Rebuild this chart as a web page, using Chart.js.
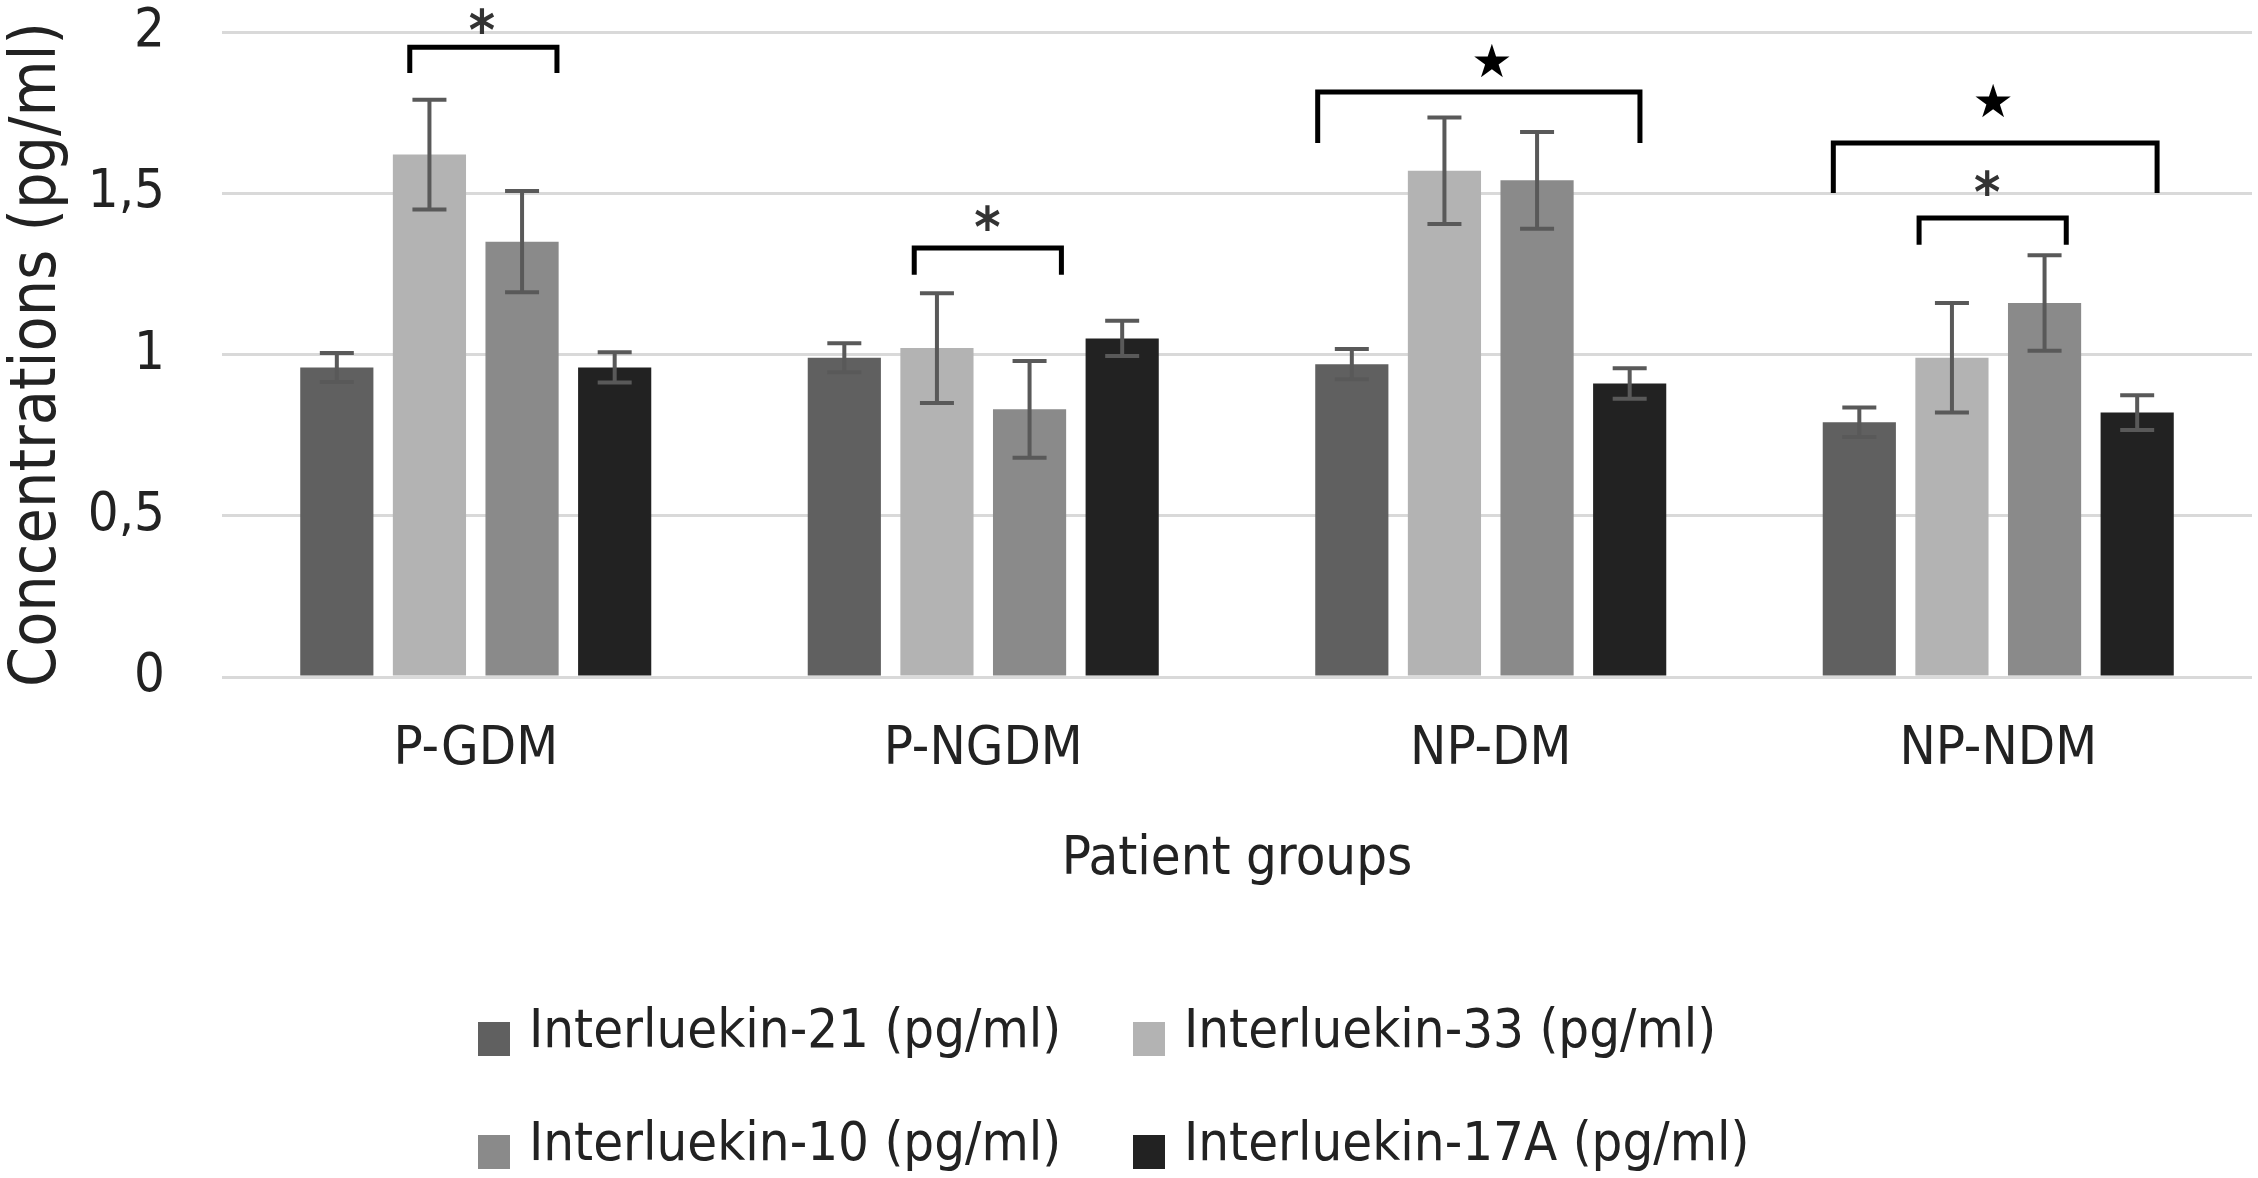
<!DOCTYPE html>
<html lang="en">
<head>
    <meta charset="UTF-8">
    <title>Interleukin concentrations by patient group</title>
    <script src="https://cdn.jsdelivr.net/npm/chart.js"></script>
    <style>
        body {
            margin: 0;
            background-color: #ffffff;
        }
        #wrap {
            width: 2258px;
            height: 1178px;
            position: relative;
        }
    </style>
</head>
<body>
    <div id="wrap">
        <canvas id="ilChart"></canvas>
    </div>

    <script>
        // values
        const groups = ['P-GDM', 'P-NGDM', 'NP-DM', 'NP-NDM'];
        const seriesNames = ['Interluekin-21 (pg/ml)', 'Interluekin-33 (pg/ml)', 'Interluekin-10 (pg/ml)', 'Interluekin-17A (pg/ml)'];
        const il21 = [0.96, 0.99, 0.97, 0.79];
        const il33 = [1.62, 1.02, 1.57, 0.99];
        const il10 = [1.35, 0.83, 1.54, 1.16];
        const il17a = [0.96, 1.05, 0.91, 0.82];
        const il21Err = [0.045, 0.045, 0.047, 0.046];
        const il33Err = [0.17, 0.17, 0.165, 0.17];
        const il10Err = [0.157, 0.15, 0.15, 0.148];
        const il17aErr = [0.047, 0.055, 0.047, 0.054];
        const yTicks = [0, 0.5, 1, 1.5, 2];

        // significance brackets (group index, ends as fraction of category width, heights in pg/ml)
        const brackets = [
            { group: 0, from: -0.130, to: 0.160, top: 1.953, foot: 1.873, sign: '*', signX: 0.012, signY: 2.050 },
            { group: 1, from: -0.136, to: 0.154, top: 1.330, foot: 1.247, sign: '*', signX: 0.008, signY: 1.439 },
            { group: 2, from: -0.341, to: 0.294, top: 1.814, foot: 1.656, sign: '\u2605', signX: 0.002, signY: 1.913 },
            { group: 3, from: -0.325, to: 0.313, top: 1.656, foot: 1.501, sign: '\u2605', signX: -0.010, signY: 1.789 },
            { group: 3, from: -0.156, to: 0.134, top: 1.423, foot: 1.340, sign: '*', signX: -0.022, signY: 1.547 }
        ];

        const FONT = '"DejaVu Sans Condensed", "Roboto", sans-serif';
        const TEXT = '#222222';

        const errorBars = {
            id: 'errorBars',
            afterDatasetsDraw(chart) {
                const c = chart.ctx;
                const y = chart.scales.y;
                c.save();
                c.strokeStyle = '#595959';
                c.lineWidth = 4;
                chart.data.datasets.forEach((ds, i) => {
                    const meta = chart.getDatasetMeta(i);
                    meta.data.forEach((bar, j) => {
                        const v = ds.data[j], e = ds.errors[j];
                        const yHi = y.getPixelForValue(v + e);
                        const yLo = y.getPixelForValue(v - e);
                        c.beginPath();
                        c.moveTo(bar.x, yHi); c.lineTo(bar.x, yLo);
                        c.moveTo(bar.x - 17, yHi); c.lineTo(bar.x + 17, yHi);
                        c.moveTo(bar.x - 17, yLo); c.lineTo(bar.x + 17, yLo);
                        c.stroke();
                    });
                });
                c.restore();
            }
        };

        const sigMarks = {
            id: 'sigMarks',
            afterDraw(chart) {
                const c = chart.ctx;
                const x = chart.scales.x, y = chart.scales.y;
                const cw = (chart.chartArea.right - chart.chartArea.left) / groups.length;
                c.save();
                c.strokeStyle = '#000000';
                c.lineWidth = 5;
                brackets.forEach(b => {
                    const cx = x.getPixelForValue(b.group);
                    const x1 = cx + b.from * cw, x2 = cx + b.to * cw;
                    const yt = y.getPixelForValue(b.top), yf = y.getPixelForValue(b.foot);
                    c.beginPath();
                    c.moveTo(x1, yf); c.lineTo(x1, yt); c.lineTo(x2, yt); c.lineTo(x2, yf);
                    c.stroke();
                    c.fillStyle = b.sign === '*' ? '#333333' : '#000000';
                    c.textAlign = 'center';
                    c.textBaseline = 'alphabetic';
                    const sx = cx + b.signX * cw, sy = y.getPixelForValue(b.signY);
                    if (b.sign === '*') {
                        c.font = 'bold 56px ' + FONT;
                        c.fillText(b.sign, sx, sy + 33);
                    } else {
                        c.font = '46px "DejaVu Sans", sans-serif';
                        c.fillText(b.sign, sx, sy + 17);
                    }
                });
                c.restore();
            }
        };

        // two-column legend under the axis title
        const gridLegend = {
            id: 'gridLegend',
            afterDraw(chart) {
                const c = chart.ctx;
                const cols = [478, 1133], rows = [1033, 1146];
                c.save();
                c.font = '54px ' + FONT;
                c.textBaseline = 'middle';
                c.textAlign = 'left';
                chart.data.datasets.forEach((ds, i) => {
                    const bx = cols[i % 2], ty = rows[Math.floor(i / 2)];
                    c.fillStyle = ds.backgroundColor;
                    c.fillRect(bx, ty - 11, 32, 34);
                    c.fillStyle = TEXT;
                    c.fillText(ds.label, bx + 51, ty);
                });
                c.restore();
            }
        };

        const values = [il21, il33, il10, il17a];
        const errs = [il21Err, il33Err, il10Err, il17aErr];
        const colors = ['#606060', '#b3b3b3', '#8a8a8a', '#222222'];

        const ctx = document.getElementById('ilChart').getContext('2d');
        const ilChart = new Chart(ctx, {
            type: 'bar',
            data: {
                labels: groups,
                datasets: seriesNames.map((name, i) => ({
                    label: name,
                    data: values[i],
                    errors: errs[i],
                    backgroundColor: colors[i],
                    borderWidth: 0,
                    categoryPercentage: 0.73,
                    barPercentage: 0.79
                }))
            },
            options: {
                responsive: true,
                maintainAspectRatio: false,
                animation: false,
                layout: { padding: { top: 32, right: 6, left: 0, bottom: 286 } },
                plugins: {
                    legend: { display: false },
                    tooltip: { enabled: false }
                },
                scales: {
                    x: {
                        grid: { display: false, drawTicks: false },
                        border: { display: false },
                        ticks: { color: TEXT, padding: 41, font: { family: FONT, size: 54 } },
                        title: {
                            display: true,
                            text: 'Patient groups',
                            color: TEXT,
                            padding: { top: 0, bottom: 0 },
                            font: { family: FONT, size: 54 }
                        },
                        afterFit: s => { s.height = 215; }
                    },
                    y: {
                        min: 0,
                        max: 2,
                        afterBuildTicks: s => { s.ticks = yTicks.map(v => ({ value: v })); },
                        grid: { color: '#d9d9d9', lineWidth: 3, drawTicks: false },
                        border: { display: false },
                        ticks: {
                            color: TEXT,
                            padding: 57,
                            font: { family: FONT, size: 54 },
                            callback: v => String(v).replace('.', ',')
                        },
                        title: {
                            display: true,
                            text: 'Concentrations (pg/ml)',
                            color: TEXT,
                            padding: { top: 0, bottom: 0 },
                            font: { family: FONT, size: 64 }
                        },
                        afterFit: s => {
                            s.width = 222;
                            // the top tick label may sit in the layout padding
                            s.paddingTop = 0;
                            s.paddingBottom = 0;
                        }
                    }
                }
            },
            plugins: [errorBars, sigMarks, gridLegend]
        });
    </script>
</body>
</html>
